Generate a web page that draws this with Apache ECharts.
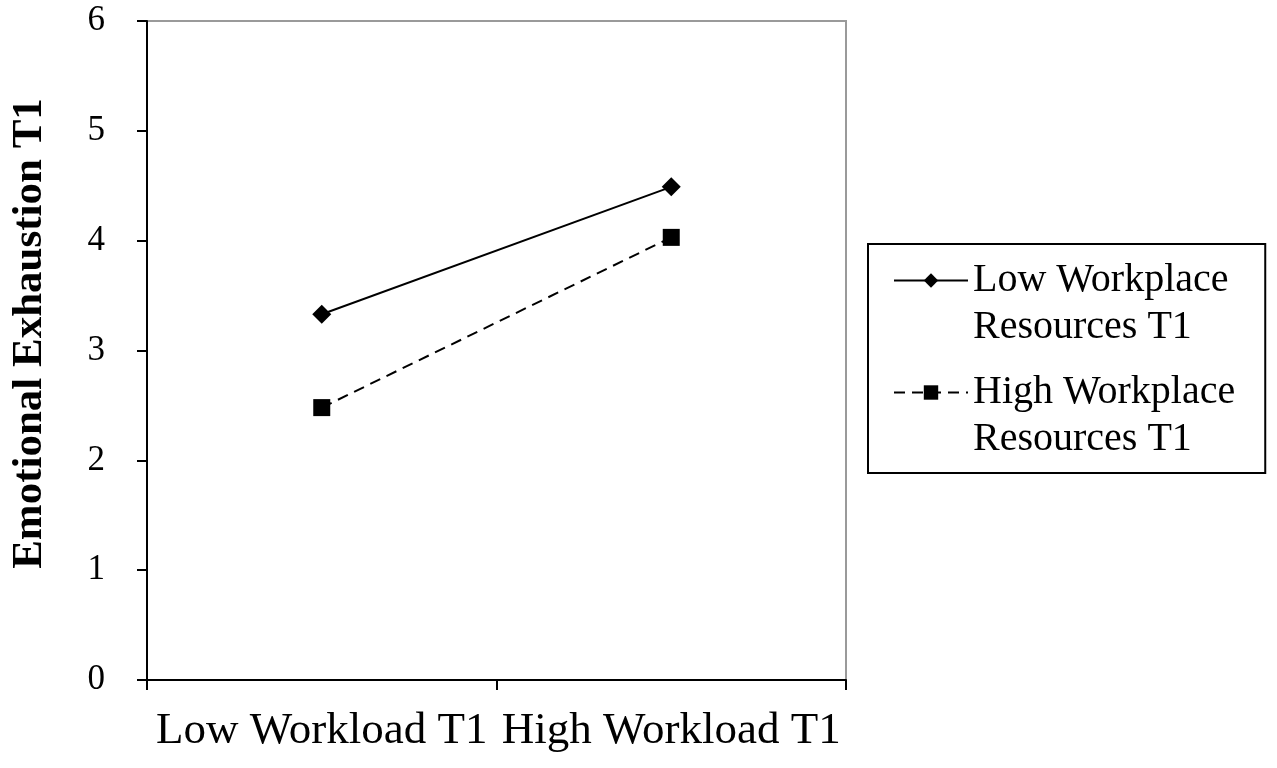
<!DOCTYPE html>
<html>
<head>
<meta charset="utf-8">
<script src="https://cdn.jsdelivr.net/npm/echarts@6/dist/echarts.min.js"></script>
<style>
html,body{margin:0;padding:0;background:#fff;}
#chart{width:1277px;height:768px;}
</style>
</head>
<body>
<div id="chart"></div>
<script>
var categories = ['Low Workload T1', 'High Workload T1'];
var seriesNames = ['Low Workplace\nResources T1', 'High Workplace\nResources T1'];
var lowResources = [3.33, 4.49];
var highResources = [2.48, 4.03];
var yTicks = [0, 1, 2, 3, 4, 5, 6];
var yTitle = 'Emotional Exhaustion T1';

var FONT = '"Liberation Serif", "Times New Roman", serif';
var chart = echarts.init(document.getElementById('chart'), null, {renderer: 'canvas'});
chart.setOption({
  animation: false,
  backgroundColor: '#fff',
  textStyle: {fontFamily: FONT, color: '#000'},
  grid: {
    left: 145, top: 21, right: 431, bottom: 88,
    show: true, borderColor: '#9a9a9a', borderWidth: 2, backgroundColor: 'transparent'
  },
  legend: {
    orient: 'vertical',
    left: 868, top: 244,
    data: seriesNames,
    formatter: function (name) { return '\n' + name; },
    itemWidth: 74, itemHeight: 18, itemGap: -29, itemTextGap: 12,
    borderColor: '#000', borderWidth: 2,
    padding: [-34, 30, 10, 25],
    textStyle: {fontFamily: FONT, fontSize: 40, lineHeight: 47, color: '#000'},
    selectedMode: false
  },
  xAxis: {
    type: 'category',
    data: categories,
    boundaryGap: true,
    axisLine: {lineStyle: {color: '#000', width: 2}},
    axisTick: {show: true, length: 10, lineStyle: {color: '#000', width: 2}},
    axisLabel: {color: '#000', fontSize: 45, fontFamily: FONT, margin: 29, interval: 0},
    splitLine: {show: false}
  },
  yAxis: {
    type: 'value',
    min: yTicks[0], max: yTicks[yTicks.length - 1], interval: 1,
    name: yTitle,
    nameLocation: 'middle',
    nameGap: 96,
    nameTextStyle: {fontFamily: FONT, fontSize: 43, fontWeight: 'bold', color: '#000', padding: [0, 0, 0, 34]},
    axisLine: {show: true, lineStyle: {color: '#000', width: 2}},
    axisTick: {show: true, length: 10, lineStyle: {color: '#000', width: 2}},
    axisLabel: {color: '#000', fontSize: 35, fontFamily: FONT, margin: 42},
    splitLine: {show: false}
  },
  series: [
    {
      name: seriesNames[0],
      type: 'line',
      data: lowResources,
      symbol: 'diamond',
      symbolSize: 19,
      itemStyle: {color: '#000'},
      lineStyle: {color: '#000', width: 2, type: 'solid'}
    },
    {
      name: seriesNames[1],
      type: 'line',
      data: highResources,
      symbol: 'rect',
      symbolSize: 17,
      itemStyle: {color: '#000'},
      lineStyle: {color: '#000', width: 2, type: [11, 7]}
    }
  ]
});
</script>
</body>
</html>
